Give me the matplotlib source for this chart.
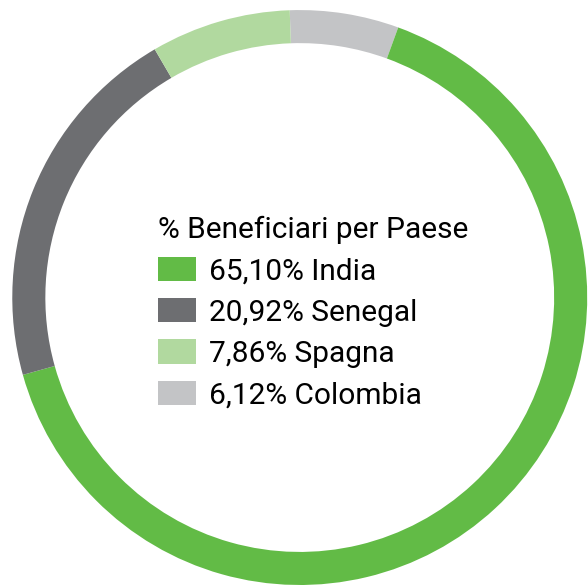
import matplotlib.pyplot as plt

paesi = ['Colombia', 'India', 'Senegal', 'Spagna']
quote = [6.12, 65.10, 20.92, 7.86]
etichette = ['6,12% Colombia', '65,10% India', '20,92% Senegal', '7,86% Spagna']
colori = ['#c3c4c6', '#62bb46', '#6d6e71', '#b1d99f']
ordine_legenda = [1, 2, 3, 0]

plt.rcParams['font.family'] = ['Roboto', 'DejaVu Sans']

fig = plt.figure(figsize=(5.88, 5.85), dpi=100)
ax = fig.add_axes([0.0, 0.0, 1.0, 1.0])

wedges, _ = ax.pie(quote, colors=colori, startangle=92, counterclock=False,
                   radius=1.0, wedgeprops=dict(width=0.115, linewidth=0))
ax.set_xlim(-1.04, 1.0)
ax.set_ylim(-1.0, 1.035)
ax.set_aspect('equal')

leg = ax.legend([wedges[i] for i in ordine_legenda],
                [etichette[i] for i in ordine_legenda],
                title='% Beneficiari per Paese', loc='upper left',
                bbox_to_anchor=(158 / 588, 1 - 216 / 585),
                bbox_transform=fig.transFigure, borderpad=0, borderaxespad=0,
                frameon=False, fontsize=21.5, title_fontsize=21.5, alignment='left',
                handlelength=1.27, handleheight=0.88, handletextpad=0.45,
                labelspacing=0.43)
leg._legend_box.sep = 9

fig.savefig('out.png', dpi=100, facecolor='white')
